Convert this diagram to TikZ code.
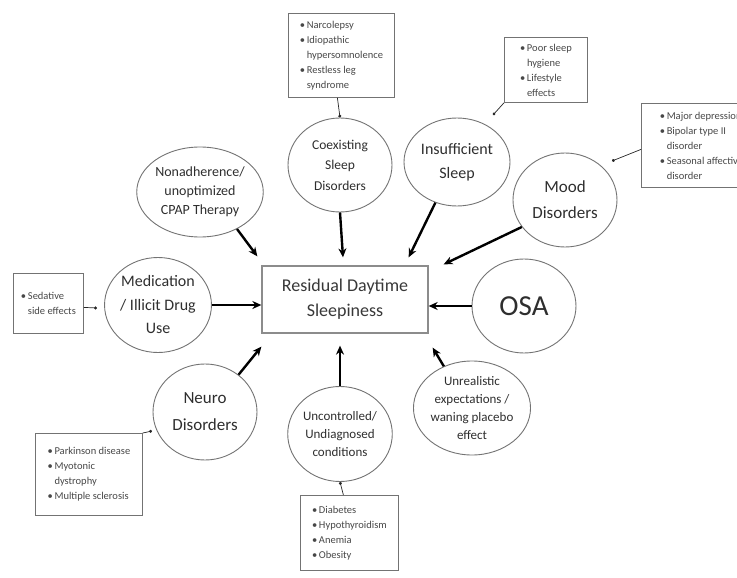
\documentclass[tikz,border=0pt]{standalone}
\usepackage{fontspec}
\setmainfont{Carlito}
\usetikzlibrary{shapes.geometric,arrows.meta,calc}
\newcommand{\bu}{\makebox[7pt][l]{\textbullet}}
\newcommand{\ind}{\hspace*{7pt}}
\begin{document}
\begin{tikzpicture}[x=1pt,y=-1pt,
  circ/.style={ellipse, draw=black!55, line width=0.9pt, inner sep=0pt,
    minimum width=104pt, minimum height=94pt, align=center, text=black!82},
  arr/.style={line width=2.4pt, -{Stealth[length=9pt,width=8pt]}},
  bbox/.style={draw=black!55, line width=0.8pt, anchor=north west, align=left,
    inner sep=0pt, text=black!72, font=\fontsize{10.5}{15}\selectfont},
  lnk/.style={line width=0.7pt, draw=black!85, -{Circle[length=3pt]}}
]
\useasboundingbox (0,0) rectangle (737,578);

% central box
\node[draw=black!45, line width=1.3pt, minimum width=166pt, minimum height=67pt,
  align=center, text=black!78, font=\fontsize{18}{25}\selectfont]
  (main) at (345,299.5) {Residual Daytime\\Sleepiness};

% ellipses
\node[circ, font=\fontsize{13.5}{20.5}\selectfont] (coex) at (340,165) {Coexisting\\Sleep\\Disorders};
\node[circ, minimum width=106pt, minimum height=88pt, font=\fontsize{16}{24}\selectfont] (insuf) at (457,162) {Insufficient\\Sleep};
\node[circ, font=\fontsize{17}{26}\selectfont] (mood) at (565,200) {Mood\\Disorders};
\node[circ, font=\fontsize{29}{30}\selectfont] (osa) at (524,306) {OSA};
\node[circ, font=\fontsize{13}{18}\selectfont] (unreal) at (472,408) {Unrealistic\\expectations /\\waning placebo\\effect};
\node[circ, minimum height=95pt, font=\fontsize{13}{18}\selectfont] (uncon) at (340,434) {Uncontrolled/\\Undiagnosed\\conditions};
\node[circ, minimum height=96pt, font=\fontsize{17}{27}\selectfont] (neuro) at (205,412) {Neuro\\Disorders};
\node[circ, minimum height=95pt, font=\fontsize{16}{23.5}\selectfont] (med) at (158,305) {Medication\\/ Illicit Drug\\Use};
\node[circ, minimum height=90pt, font=\fontsize{14}{19}\selectfont] (nonadh) at (200,192) {Nonadherence/\\unoptimized\\CPAP Therapy};

% thick arrows into the central box
\draw[arr] (nonadh.-45) -- ($(main.north west)+(-4,-9)$);
\draw[arr] (coex.south) -- ($(coex.south |- main.north)+(3,-8)$);
\draw[arr] (insuf.-118) -- ($(main.north east)+(-20,-8)$);
\draw[arr] (mood.-148) -- ($(main.north east)+(15,-1)$);
\draw[arr] (osa.west) -- (osa.west -| main.east);
\draw[arr] (unreal.124) -- ($(main.south east)+(4,14)$);
\draw[arr] (uncon.north) -- ($(uncon.north |- main.south)+(0,12)$);
\draw[arr] (neuro.48) -- ($(main.south west)+(0,13)$);
\draw[arr] (med.east) -- (med.east -| main.west);

% bullet boxes
\node[bbox, minimum width=106pt, minimum height=84pt] (coexbox) at (288,13)
  {\bu Narcolepsy\\\bu Idiopathic\\\ind hypersomnolence\\\bu Restless leg\\\ind syndrome};
\node[bbox, minimum width=83pt, minimum height=65pt] (insufbox) at (504,37)
  {\bu Poor sleep\\\ind hygiene\\\bu Lifestyle\\\ind effects};
\node[bbox, minimum width=120pt, minimum height=84pt] (moodbox) at (641,103)
  {\bu Major depression\\\bu Bipolar type II\\\ind disorder\\\bu Seasonal affective\\\ind disorder};
\node[bbox, minimum width=70pt, minimum height=60pt] (medbox) at (13,273)
  {\bu Sedative\\\ind side effects};
\node[bbox, minimum width=107pt, minimum height=82pt] (neurobox) at (35,433)
  {\bu Parkinson disease\\\bu Myotonic\\\ind dystrophy\\\bu Multiple sclerosis};
\node[bbox, minimum width=98pt, minimum height=75pt] (unconbox) at (300,495)
  {\bu Diabetes\\\bu Hypothyroidism\\\bu Anemia\\\bu Obesity};

% thin links with dot ends
\coordinate (dInsuf) at (493,115);
\coordinate (dMood) at (612,161);
\coordinate (dMed) at (97,308);
\coordinate (dNeuro) at (152,431);
\draw[lnk] ($(coexbox.south)+(-4,0)$) -- (coex.north);
\draw[lnk] (insufbox.south west) -- (dInsuf);
\draw[lnk] ($(moodbox.west)+(0,4)$) -- (dMood);
\draw[lnk] ($(medbox.east)+(0,4)$) -- (dMed);
\draw[lnk] (neurobox.north east) -- (dNeuro);
\draw[lnk] ($(unconbox.north)+(-6,0)$) -- (uncon.south);
\end{tikzpicture}
\end{document}
